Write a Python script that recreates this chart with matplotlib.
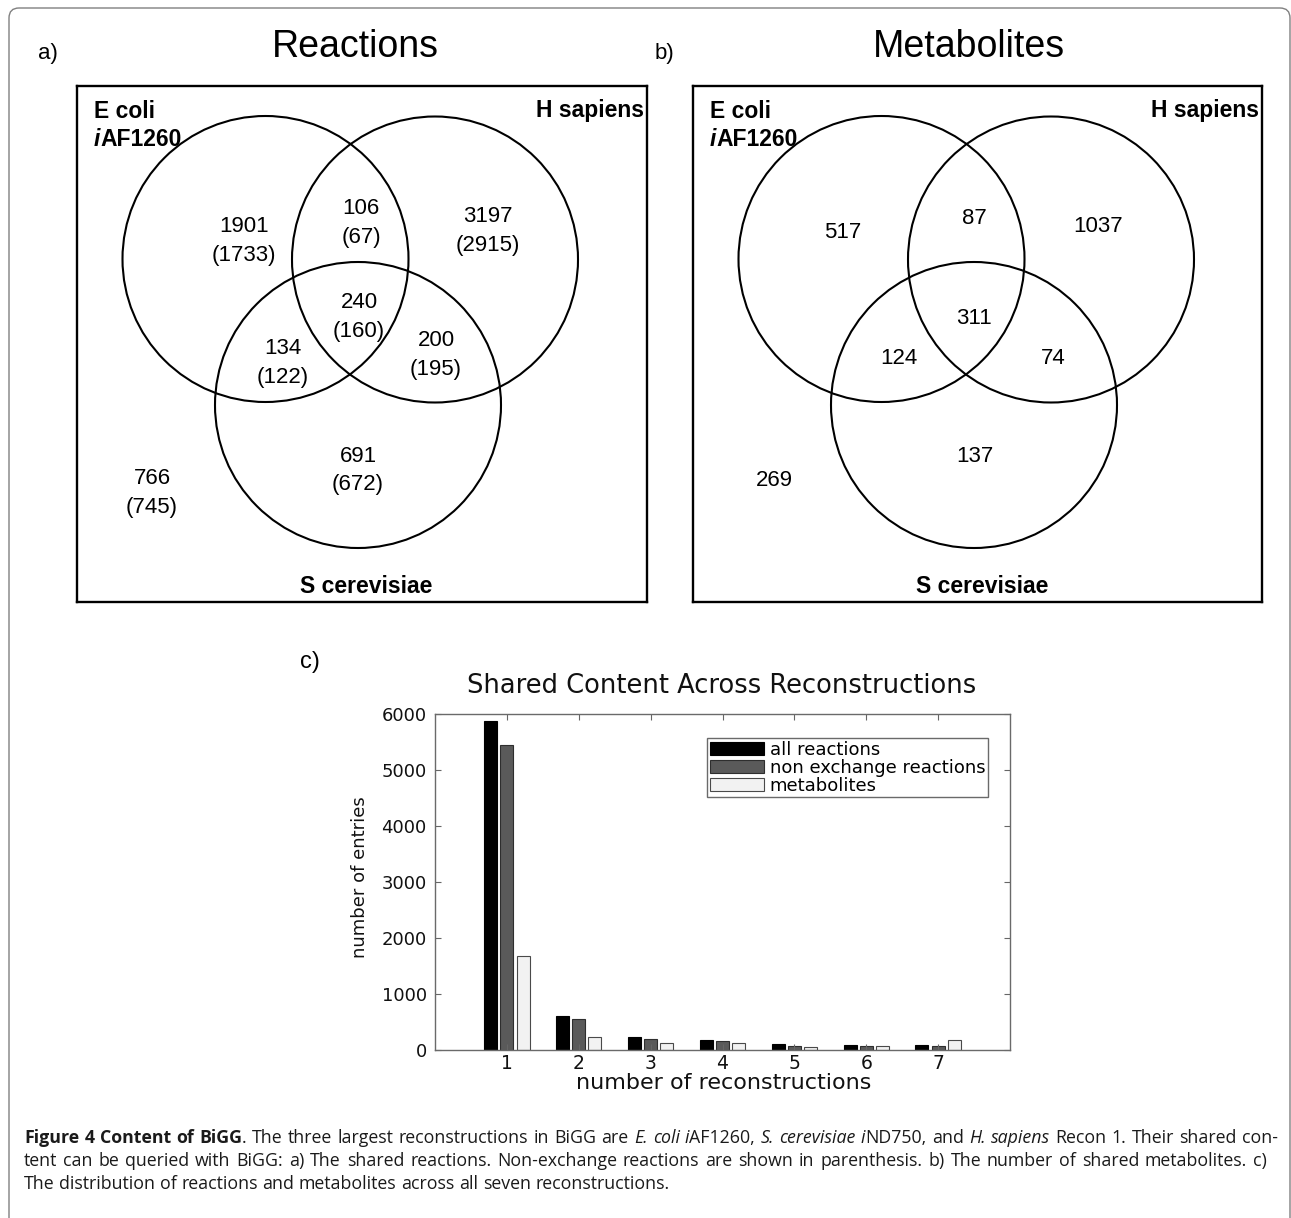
import matplotlib
matplotlib.use('Agg')
import matplotlib.pyplot as plt
from matplotlib.patches import Circle, PathPatch
from matplotlib.path import Path
import numpy as np

W, H = 1291, 1218

# Venn diagrams a) and b): counts per region
regions = ['E coli only', 'E coli & H sapiens', 'H sapiens only', 'all three',
           'E coli & S cerevisiae', 'H sapiens & S cerevisiae', 'S cerevisiae only', 'none']
rxn_all = [1901, 106, 3197, 240, 134, 200, 691, 766]
rxn_nonex = [1733, 67, 2915, 160, 122, 195, 672, 745]
met_shared = [517, 87, 1037, 311, 124, 74, 137, 269]

# bar chart c)
n_recon = [1, 2, 3, 4, 5, 6, 7]
all_reactions = [5880, 615, 227, 185, 107, 95, 90]
nonex_reactions = [5445, 549, 203, 161, 78, 66, 78]
metabolites = [1683, 233, 125, 125, 60, 78, 185]
series_names = ['all reactions', 'non exchange reactions', 'metabolites']


def fx(x):
    return x / W


def fy(y):
    return 1 - y / H


fig = plt.figure(figsize=(W / 100, H / 100), dpi=100)

# outer frame (open at the bottom)
bg = fig.add_axes([0, 0, 1, 1])
bg.set_xlim(0, W)
bg.set_ylim(H, 0)
bg.axis('off')
verts = [(9, H + 5), (9, 18), (9, 8), (19, 8), (1280, 8), (1290, 8), (1290, 18), (1290, H + 5)]
codes = [Path.MOVETO, Path.LINETO, Path.CURVE3, Path.CURVE3, Path.LINETO,
         Path.CURVE3, Path.CURVE3, Path.LINETO]
bg.add_patch(PathPatch(Path(verts, codes), fill=False, ec='#808080', lw=1.0))

VENN_FONT = 'Liberation Sans'
centers = [(188.5, 173), (358, 173.5), (281, 319)]
R = 143
pos_a = [(167, 140), (284, 123), (411, 131), (282, 216), (206, 263), (359, 255), (281, 370), (75, 393)]
pos_b = [(150, 147), (281, 132), (405, 140), (281, 232), (206, 272), (360, 272), (282, 371), (81, 395)]


def venn(box, counts, sub, pos, title, tx, letter, lx):
    x0, y0, x1, y1 = box
    ax = fig.add_axes([fx(x0), fy(y1), (x1 - x0) / W, (y1 - y0) / H])
    ax.set_xlim(0, x1 - x0)
    ax.set_ylim(y1 - y0, 0)
    ax.set_xticks([])
    ax.set_yticks([])
    for s in ax.spines.values():
        s.set_linewidth(1.7)
    for c in centers:
        ax.add_patch(Circle(c, R, fill=False, ec='black', lw=1.5))
    for i, v in enumerate(counts):
        px, py = pos[i]
        ax.text(px, py, str(v), ha='center', va='center', fontsize=16, family=VENN_FONT)
        if sub is not None:
            ax.text(px, py + 29, '(%d)' % sub[i], ha='center', va='center', fontsize=16, family=VENN_FONT)
    ax.text(17, 25, 'E coli', ha='left', va='center', fontsize=16.5, weight='bold', family=VENN_FONT)
    ax.text(17, 53, 'i', ha='left', va='center', fontsize=16.5, weight='bold', style='italic', family=VENN_FONT)
    ax.text(23, 53, 'AF1260', ha='left', va='center', fontsize=16.5, weight='bold', family=VENN_FONT)
    ax.text(x1 - x0 - 3, 25, 'H sapiens', ha='right', va='center', fontsize=16.5, weight='bold', family=VENN_FONT)
    ax.text(289, 501, 'S cerevisiae', ha='center', va='center', fontsize=16.5, weight='bold', family=VENN_FONT)
    fig.text(fx(tx), fy(47), title, ha='center', va='center', fontsize=27, family=VENN_FONT)
    fig.text(fx(lx), fy(54), letter, ha='left', va='center', fontsize=16, family=VENN_FONT)


venn((77, 86, 647, 602), rxn_all, rxn_nonex, pos_a, 'Reactions', 355, 'a)', 38)
venn((693, 86, 1262, 602), met_shared, None, pos_b, 'Metabolites', 969, 'b)', 655)

# bar chart
BAR_FONT = 'DejaVu Sans'
axc = fig.add_axes([fx(435), fy(1050), 575 / W, 336 / H])
x = np.array(n_recon)
off, bw = 0.225, 0.18
axc.bar(x - off, all_reactions, bw, color='black', edgecolor='black', lw=0.8, label=series_names[0])
axc.bar(x, nonex_reactions, bw, color='#5a5a5a', edgecolor='#2e2e2e', lw=0.8, label=series_names[1])
axc.bar(x + off, metabolites, bw, color='#f2f2f2', edgecolor='#4a4a4a', lw=0.8, label=series_names[2])
axc.set_xlim(0, 8)
axc.set_ylim(0, 6000)
axc.set_xticks(n_recon)
axc.set_yticks(range(0, 6001, 1000))
axc.tick_params(direction='in', top=True, right=True, length=4, width=0.8, color='#666666',
                labelsize=13, labelcolor='#111111', pad=6)
axc.tick_params(axis='x', pad=3, labelsize=13.5)
for lab in axc.get_xticklabels() + axc.get_yticklabels():
    lab.set_family(BAR_FONT)
for s in axc.spines.values():
    s.set_color('#6a6a6a')
    s.set_linewidth(1.0)
leg = axc.legend(loc='upper right', bbox_to_anchor=(fx(988), fy(738)), bbox_transform=fig.transFigure,
                 borderaxespad=0, borderpad=0.15, labelspacing=0.0, handlelength=3.0, handleheight=0.7,
                 handletextpad=0.3, fancybox=False, edgecolor='#6a6a6a', framealpha=1,
                 prop={'family': BAR_FONT, 'size': 13})
leg.get_frame().set_linewidth(1.0)
fig.text(fx(722), fy(686), 'Shared Content Across Reconstructions', ha='center', va='center',
         fontsize=18.5, family=BAR_FONT, color='#111111')
fig.text(fx(724), fy(1083), 'number of reconstructions', ha='center', va='center',
         fontsize=16, family=BAR_FONT, color='#111111')
fig.text(fx(360), fy(877), 'number of entries', ha='center', va='center', rotation=90,
         fontsize=13, family=BAR_FONT, color='#111111')
fig.text(fx(300), fy(662), 'c)', ha='left', va='center', fontsize=17, family=VENN_FONT)

# caption, justified like the journal layout
CAP_FONT = 'Open Sans'
renderer = fig.canvas.get_renderer()
styles = {'n': {}, 'b': {'weight': 'bold'}, 'i': {'style': 'italic'}}


def tokens_from(runs):
    toks = [[]]
    for txt, st in runs:
        parts = txt.split(' ')
        for k, p in enumerate(parts):
            if k > 0:
                toks.append([])
            if p:
                toks[-1].append((p, st))
    return [t for t in toks if t]


def text_w(txt, size, st='n'):
    t = fig.text(0, 0, txt, fontsize=size, family=CAP_FONT, **styles[st])
    w = t.get_window_extent(renderer).width
    t.remove()
    return w


def measure(runs, size):
    toks = tokens_from(runs)
    widths = [sum(text_w(txt, size, st) for txt, st in tok) for tok in toks]
    gap = text_w('a a', size) - text_w('aa', size)
    return toks, widths, gap


def draw_line(y, runs, size, x0, x1=None):
    toks, widths, gap = measure(runs, size)
    if x1 is not None:
        gap = (x1 - x0 - sum(widths)) / (len(toks) - 1)
    xx = x0
    for tok in toks:
        for txt, st in tok:
            t = fig.text(fx(xx), fy(y), txt, ha='left', va='baseline', fontsize=size,
                         family=CAP_FONT, color='#1a1a1a', **styles[st])
            xx += t.get_window_extent(renderer).width
        xx += gap


line1 = [('Figure 4 Content of BiGG', 'b'), ('. The three largest reconstructions in BiGG are ', 'n'),
         ('E. coli i', 'i'), ('AF1260, ', 'n'), ('S. cerevisiae i', 'i'), ('ND750, and ', 'n'),
         ('H. sapiens', 'i'), (' Recon 1. Their shared con-', 'n')]
line2 = [('tent can be queried with BiGG: a) The shared reactions. Non-exchange reactions are shown in '
          'parenthesis. b) The number of shared metabolites. c)', 'n')]
line3 = [('The distribution of reactions and metabolites across all seven reconstructions.', 'n')]

# pick the caption size so that the first line nearly fills the width
toks, widths, gap = measure(line1, 10)
natural = sum(widths) + gap * (len(toks) - 1)
cap_size = 10 * 1236 / natural

draw_line(1143, line1, cap_size, 24, 1278)
draw_line(1166, line2, cap_size, 24, 1267)
draw_line(1189, line3, cap_size, 24)

fig.savefig('out.png', dpi=100)
